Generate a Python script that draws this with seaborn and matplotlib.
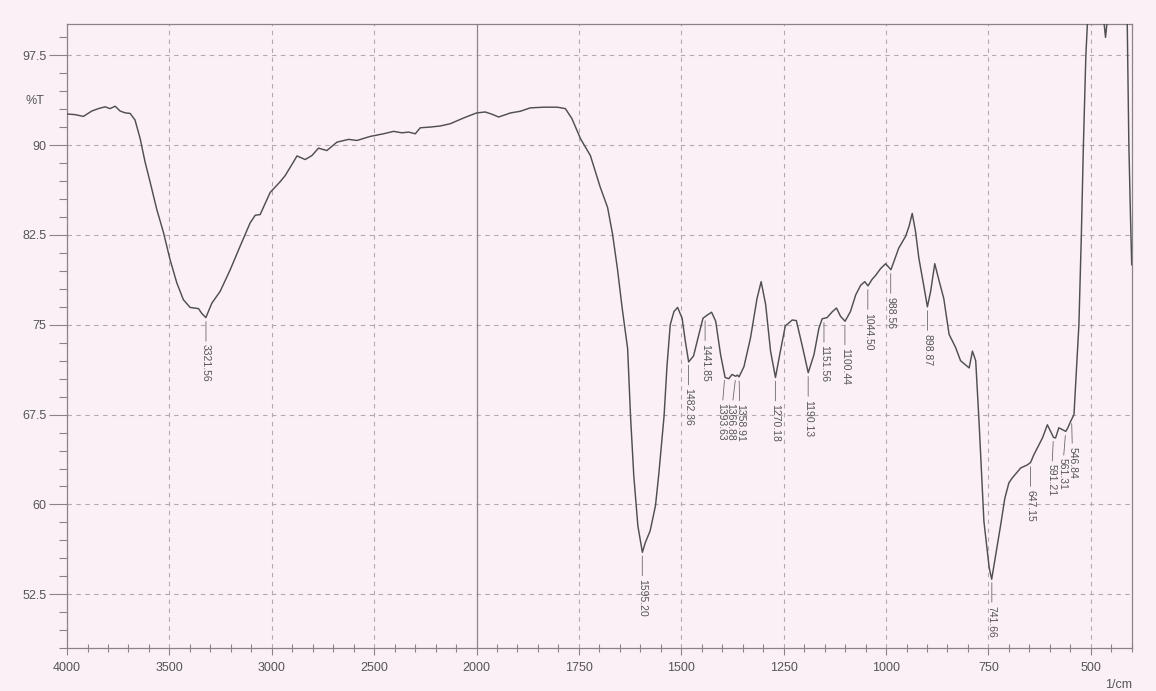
import numpy as np
import pandas as pd
import matplotlib
matplotlib.use("Agg")
import matplotlib.pyplot as plt
from matplotlib.ticker import FixedLocator, FixedFormatter, NullFormatter
import seaborn as sns

# FTIR spectrum (wavenumber in 1/cm, transmittance in %T)
wavenumber = [
    4000, 3961, 3920, 3879, 3847, 3814, 3790, 3765, 3741, 3717, 3692, 3668,
    3643, 3619, 3594, 3562, 3529, 3497, 3464, 3432, 3399, 3358, 3342, 3322,
    3293, 3252, 3203, 3155, 3106, 3081, 3057, 3008, 2959, 2935, 2910, 2894,
    2877, 2837, 2804, 2772, 2731, 2682, 2625, 2584, 2519, 2454, 2405, 2364,
    2332, 2299, 2275, 2226, 2177, 2128, 2063, 2000, 1979, 1962, 1946, 1917,
    1893, 1869, 1836, 1803, 1783, 1767, 1746, 1722, 1698, 1680, 1668, 1656,
    1644, 1631, 1624, 1616, 1606, 1595, 1588, 1576, 1563, 1555, 1542, 1535,
    1527, 1518, 1509, 1498, 1490, 1482, 1470, 1457, 1447, 1437, 1426, 1416,
    1404, 1393, 1384, 1376, 1367, 1363, 1359, 1347, 1331, 1315, 1305, 1294,
    1282, 1270, 1258, 1246, 1229, 1219, 1205, 1190, 1176, 1164, 1156, 1144,
    1131, 1121, 1111, 1100, 1087, 1074, 1062, 1052, 1044, 1034, 1026, 1013,
    1001, 988, 969, 952, 944, 936, 928, 920, 907, 899, 891, 881, 871, 859,
    846, 830, 818, 797, 789, 781, 773, 761, 748, 742, 732, 720, 710, 700,
    692, 671, 655, 647, 639, 618, 606, 591, 586, 578, 561, 556, 549, 541,
    529, 523, 518, 512, 508, 500, 485, 470, 464, 458, 440, 420, 411, 407,
    403, 400,
]
transmittance = [
    92.6, 92.55, 92.4, 92.85, 93.05, 93.2, 93.05, 93.25, 92.85, 92.7, 92.65, 92.1,
    90.55, 88.6, 86.9, 84.65, 82.7, 80.45, 78.5, 77.1, 76.45, 76.35, 75.95, 75.6,
    76.8, 77.8, 79.6, 81.55, 83.5, 84.15, 84.2, 86.05, 86.95, 87.45, 88.15, 88.6,
    89.1, 88.8, 89.13, 89.75, 89.55, 90.25, 90.48, 90.39, 90.73, 90.95, 91.15, 91.03,
    91.09, 90.95, 91.45, 91.51, 91.6, 91.79, 92.27, 92.69, 92.77, 92.58, 92.35, 92.69,
    92.83, 93.11, 93.17, 93.17, 93.05, 92.21, 90.53, 89.13, 86.5, 84.8, 82.6, 79.7,
    76.3, 73.0, 67.4, 62.4, 58.2, 56.0, 56.8, 57.8, 59.9, 62.5, 67.4, 71.5,
    75.0, 76.1, 76.45, 75.55, 73.6, 71.9, 72.4, 74.2, 75.55, 75.8, 76.05, 75.3,
    72.5, 70.6, 70.5, 70.85, 70.7, 70.8, 70.65, 71.5, 73.9, 77.2, 78.6, 76.7,
    72.8, 70.6, 72.8, 74.9, 75.4, 75.35, 73.3, 71.0, 72.5, 74.7, 75.5, 75.6,
    76.1, 76.4, 75.7, 75.3, 76.1, 77.5, 78.3, 78.6, 78.25, 78.8, 79.1, 79.7,
    80.1, 79.6, 81.4, 82.4, 83.2, 84.3, 82.8, 80.6, 78.1, 76.5, 77.8, 80.1, 78.75, 77.2,
    74.2, 73.1, 72.0, 71.4, 72.8, 72.0, 67.0, 58.6, 54.7, 53.75, 55.8, 58.3, 60.5, 61.8,
    62.2, 63.05, 63.3, 63.5, 64.15, 65.55, 66.65, 65.6, 65.55, 66.4, 66.1, 66.4, 66.95, 67.5,
    75.0, 82.5, 90.0, 97.5, 100.3, 102.5, 103.0, 101.0, 99.0, 101.0, 103.0, 102.5, 100.3, 90.0,
    84.0, 80.0,
]

# Peak picks printed under the trace
peak_positions = [3321.56, 1595.20, 1482.36, 1441.85, 1393.63, 1366.88, 1358.91,
                  1270.18, 1190.13, 1151.56, 1100.44, 1044.50, 988.56, 898.87,
                  741.66, 647.15, 591.21, 561.31, 546.84]

x_major = [4000, 3500, 3000, 2500, 2000, 1750, 1500, 1250, 1000, 750, 500]
y_major = [52.5, 60, 67.5, 75, 82.5, 90, 97.5]

BG = "#fbf0f6"
INK = "#555555"
GRID = "#b3aab0"
AXC = "#8a8388"

sns.set_style("white")
plt.rcParams["font.family"] = ["Liberation Sans", "DejaVu Sans"]

fig = plt.figure(figsize=(11.56, 6.91), dpi=100, facecolor=BG)
ax = fig.add_axes([0.058, 0.062, 0.921, 0.903])
ax.set_facecolor(BG)


# Split abscissa: 4000-2000 compressed by half relative to 2000-400
def fwd(x):
    x = np.asarray(x, dtype=float)
    return np.where(x > 2000, 2000 + (x - 2000) / 2.0, x)


def inv(u):
    u = np.asarray(u, dtype=float)
    return np.where(u > 2000, 2000 + (u - 2000) * 2.0, u)


ax.set_xscale("function", functions=(fwd, inv))

df = pd.DataFrame({"wavenumber": wavenumber, "T": transmittance})
sns.lineplot(data=df, x="wavenumber", y="T", ax=ax, color="#505050",
             lw=1.05, estimator=None, zorder=3)

ax.set_xlim(4000, 400)
ax.set_ylim(48, 100.1)
ax.set_xlabel("")
ax.set_ylabel("")

# ticks
ax.xaxis.set_major_locator(FixedLocator(x_major))
ax.xaxis.set_major_formatter(FixedFormatter([str(v) for v in x_major]))
x_minor = [v for v in range(400, 2000, 50) if v not in x_major] + \
          [v for v in range(2100, 4000, 100) if v not in x_major]
ax.xaxis.set_minor_locator(FixedLocator(x_minor))
ax.xaxis.set_minor_formatter(NullFormatter())

ax.yaxis.set_major_locator(FixedLocator(y_major))
ax.yaxis.set_major_formatter(FixedFormatter([f"{v:g}" for v in y_major]))
y_minor = [v for v in np.arange(48, 100.1, 1.5) if not np.isclose(v, y_major).any()]
ax.yaxis.set_minor_locator(FixedLocator(y_minor))
ax.yaxis.set_minor_formatter(NullFormatter())

ax.tick_params(axis="both", which="major", direction="out", width=0.8,
               color=AXC, labelcolor=INK, labelsize=9)
ax.tick_params(axis="x", which="major", length=5, pad=5)
ax.tick_params(axis="y", which="major", length=13, pad=2)
ax.tick_params(axis="x", which="minor", direction="inout", length=6, width=0.8, color=AXC)
ax.tick_params(axis="y", which="minor", direction="out", length=6, width=0.8, color=AXC)
ax.tick_params(axis="x", which="both", bottom=True, top=False)
ax.tick_params(axis="y", which="both", left=True, right=False)

ax.grid(True, which="major", linestyle=(0, (4, 4)), color=GRID, lw=0.8, zorder=1)
ax.axvline(2000, color="#8f878c", lw=0.9, zorder=2)

for s in ax.spines.values():
    s.set_color(AXC)
    s.set_linewidth(0.9)

ax.text(-0.030, 0.877, "%T", transform=ax.transAxes, ha="center", va="center",
        fontsize=9, color=INK)
ax.text(1.0, -0.05, "1/cm", transform=ax.transAxes, ha="right", va="top",
        fontsize=9, color=INK)

# peak annotations: short leader line and vertical value label
xs = np.array(wavenumber[::-1], dtype=float)
ys = np.array(transmittance[::-1], dtype=float)
label_shift = {1393.63: -2.8, 1366.88: -4.0, 1358.91: 0.8,
               591.21: -1.5, 561.31: -2.5, 546.84: 0.8}
for p in peak_positions:
    yc = float(np.interp(p, xs, ys))
    ax.annotate(f"{p:.2f}", xy=(p, yc),
                xytext=(label_shift.get(p, 0.0), -19.5), textcoords="offset points",
                rotation=-90, ha="center", va="top", fontsize=7.5, color=INK,
                arrowprops=dict(arrowstyle="-", color="#6a6a6a", lw=0.6,
                                shrinkA=0, shrinkB=3),
                zorder=4)

fig.savefig("out.png", dpi=100, facecolor=BG)
